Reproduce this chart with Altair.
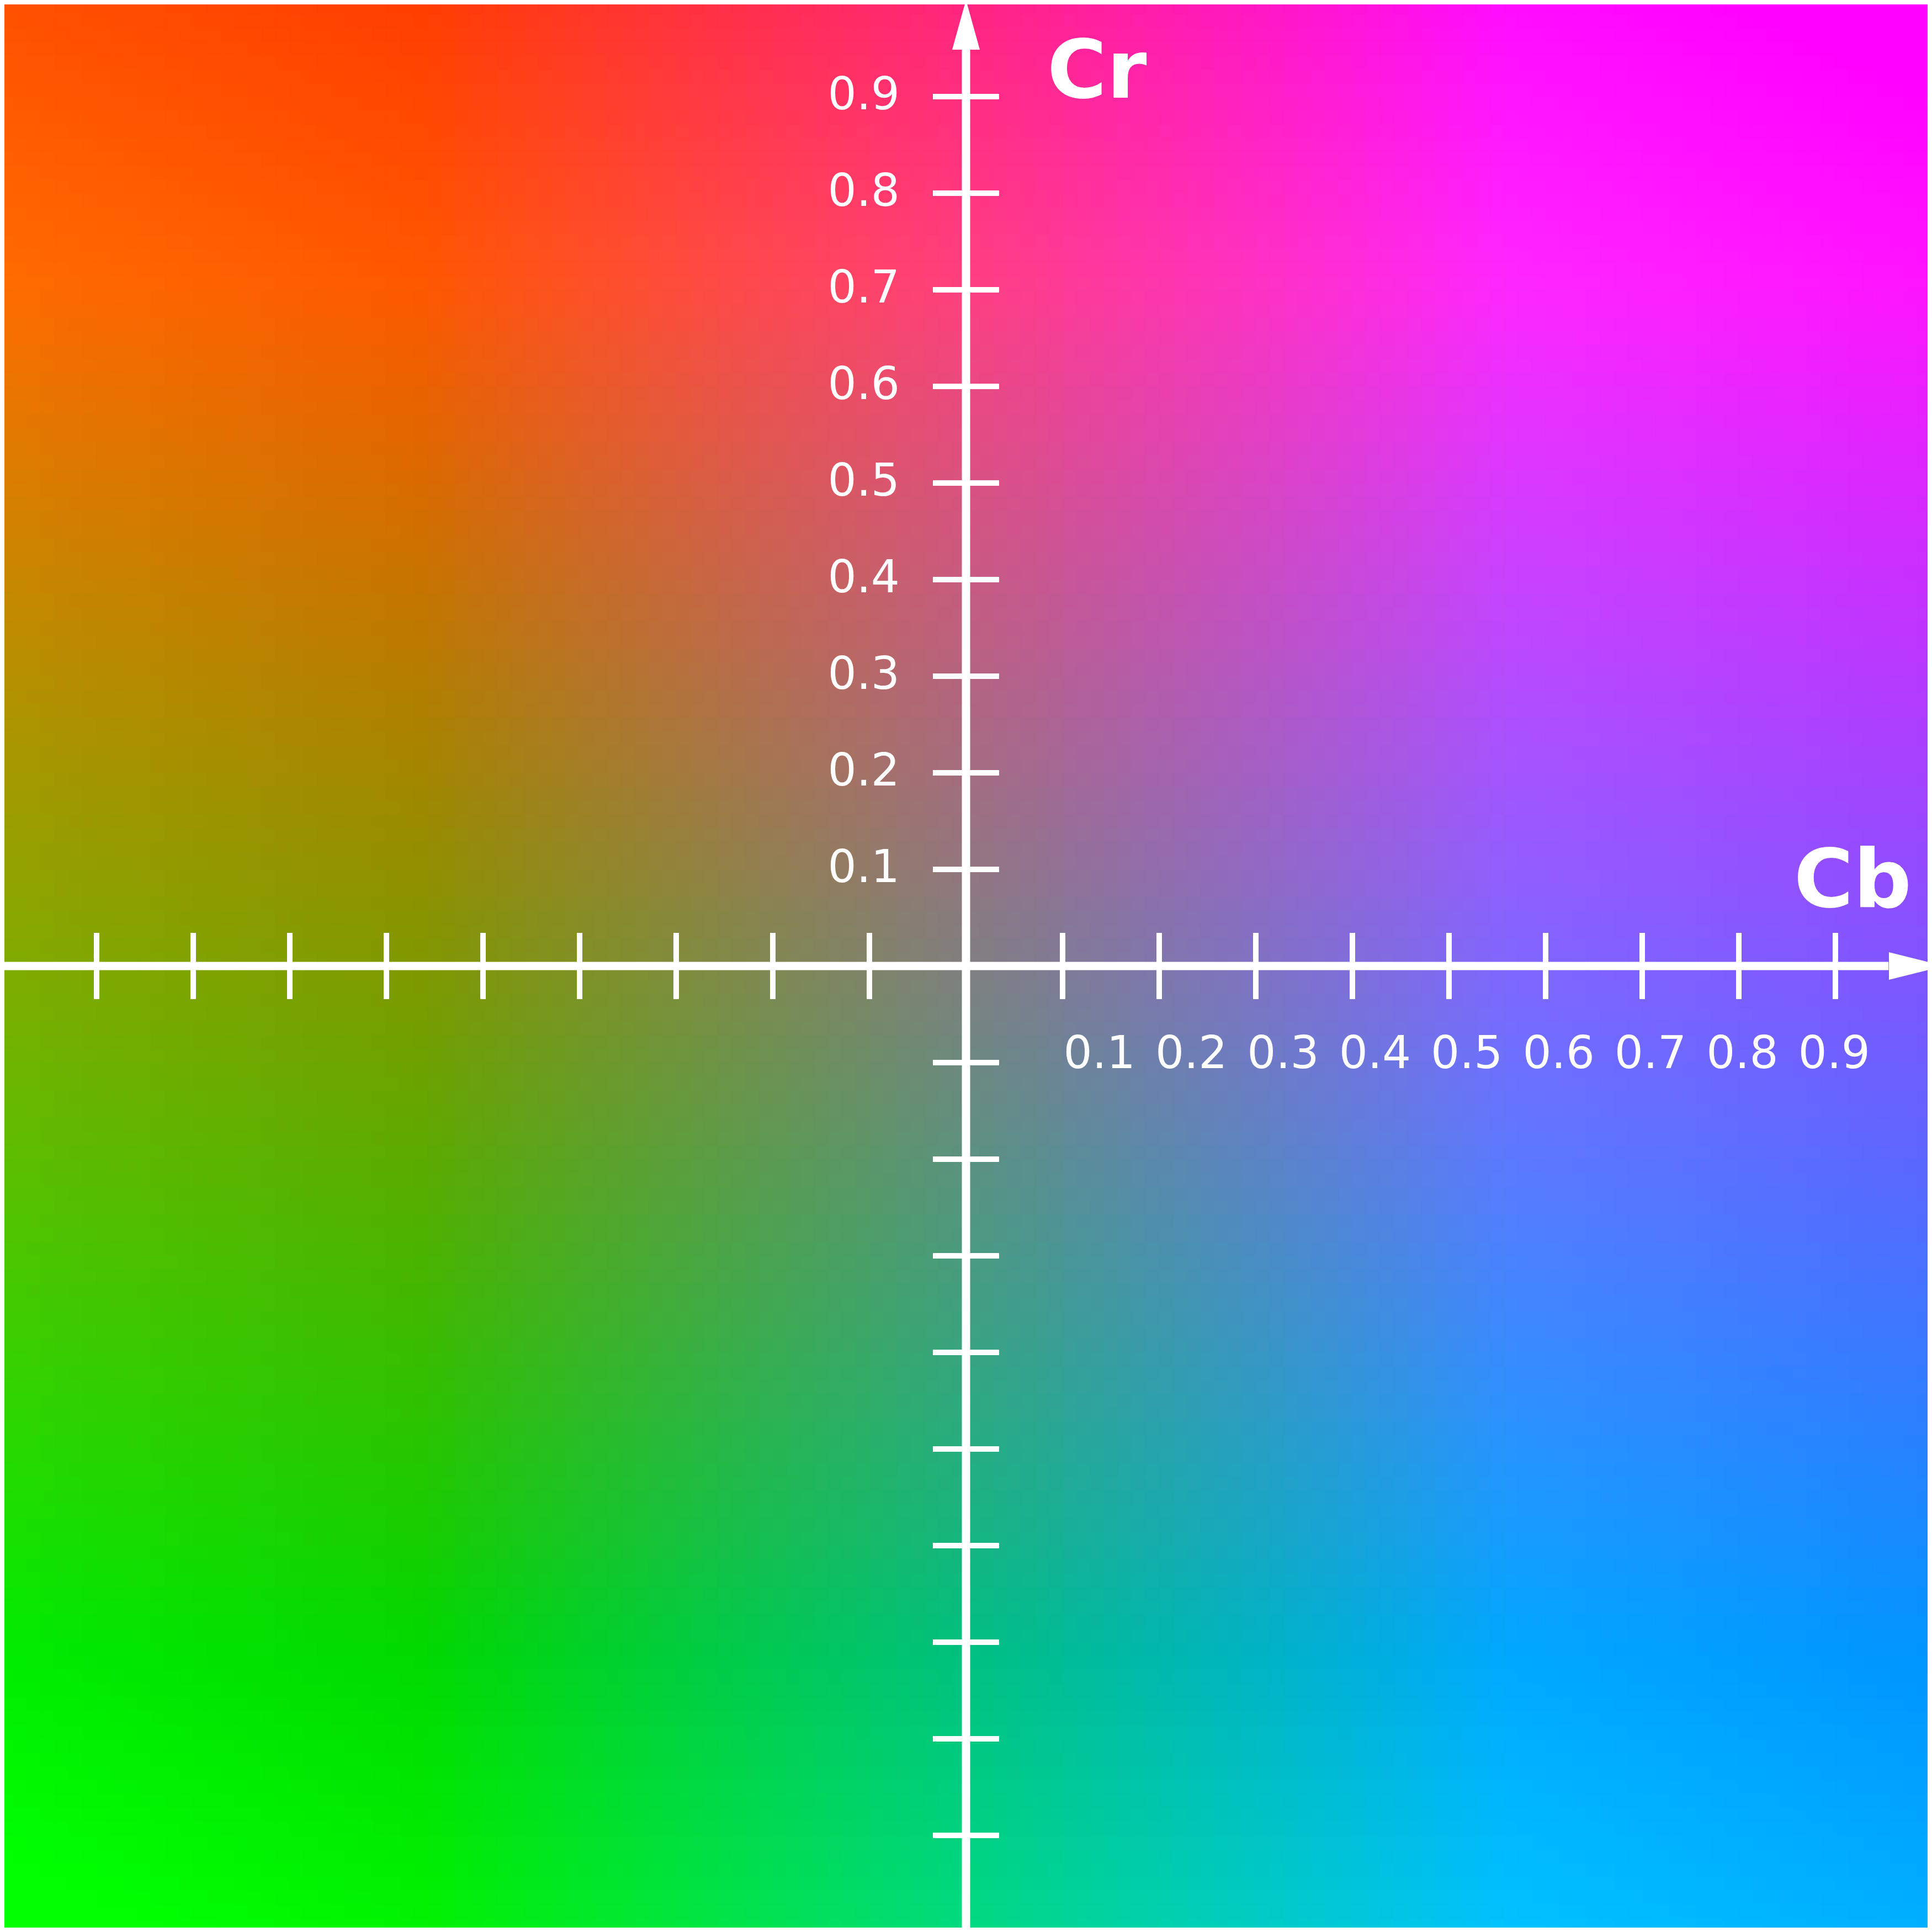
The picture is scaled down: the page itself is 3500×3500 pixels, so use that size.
import numpy as np
import pandas as pd
import altair as alt

# ---- chart values -------------------------------------------------------
TICK_VALUES = [-1.0, -0.9, -0.8, -0.7, -0.6, -0.5, -0.4, -0.3, -0.2, -0.1,
               0.1, 0.2, 0.3, 0.4, 0.5, 0.6, 0.7, 0.8, 0.9, 1.0]
LABEL_VALUES = [0.1, 0.2, 0.3, 0.4, 0.5, 0.6, 0.7, 0.8, 0.9]
LABEL_TEXT = ["0.1", "0.2", "0.3", "0.4", "0.5", "0.6", "0.7", "0.8", "0.9"]
TITLE_CB = "Cb"
TITLE_CR = "Cr"
LUMA = 0.5          # Y value of the plane
GRID_N = 140        # cells per side of the colour plane

# ---- colour plane (YCbCr -> RGB, BT.601), Cb/Cr axis units in [-1, 1] ----
edges = np.linspace(-1.0, 1.0, GRID_N + 1)
centers = (edges[:-1] + edges[1:]) / 2
CB, CR = np.meshgrid(centers, centers)
cb = CB / 2
cr = CR / 2
R = np.clip(LUMA + 1.402 * cr, 0, 1)
G = np.clip(LUMA - 0.344136 * cb - 0.714136 * cr, 0, 1)
B = np.clip(LUMA + 1.772 * cb, 0, 1)
I, J = np.meshgrid(np.arange(GRID_N), np.arange(GRID_N))
hexes = ["#%02x%02x%02x" % (int(round(r * 255)), int(round(g * 255)), int(round(b * 255)))
         for r, g, b in zip(R.ravel(), G.ravel(), B.ravel())]
bg_df = pd.DataFrame({
    "cb0": edges[I.ravel()], "cb1": edges[I.ravel() + 1],
    "cr0": edges[J.ravel()], "cr1": edges[J.ravel() + 1],
    "color": hexes,
})

ticks_df = pd.DataFrame({"v": TICK_VALUES})
labels_df = pd.DataFrame({"v": LABEL_VALUES, "t": LABEL_TEXT})
one = alt.Data(values=[{}])

D = 1742 / 1750
xs = alt.Scale(domain=[-D, D])
ys = alt.Scale(domain=[-D, D])
xl = alt.Scale(domain=[-1.05316, 1.04091])  # spacing of the Cb label row

WHITE = "white"
FONT = "DejaVu Sans"

bg = alt.Chart(bg_df).mark_rect(strokeWidth=1.2, clip=True).encode(
    x=alt.X("cb0:Q", scale=xs, axis=None), x2="cb1:Q",
    y=alt.Y("cr0:Q", scale=ys, axis=None), y2="cr1:Q",
    color=alt.Color("color:N", scale=None),
    stroke=alt.Stroke("color:N", scale=None),
)

h_axis = alt.Chart(one).mark_rule(color=WHITE, strokeWidth=15, clip=True).encode(
    x=alt.XDatum(-1.0, type="quantitative", scale=xs, axis=None),
    x2=alt.X2Datum(0.955),
    y=alt.YDatum(0.0, type="quantitative", scale=ys, axis=None),
)
v_axis = alt.Chart(one).mark_rule(color=WHITE, strokeWidth=15, clip=True).encode(
    x=alt.XDatum(0.0, type="quantitative", scale=xs, axis=None),
    y=alt.YDatum(-1.0, type="quantitative", scale=ys, axis=None),
    y2=alt.Y2Datum(0.9486),
)

x_ticks = alt.Chart(ticks_df).mark_rule(
    color=WHITE, strokeWidth=10, yOffset=-60, y2Offset=60, clip=True
).encode(
    x=alt.X("v:Q", scale=xs, axis=None),
    y=alt.YDatum(0.0, type="quantitative", scale=ys, axis=None),
    y2=alt.Y2Datum(0.0),
)
y_ticks = alt.Chart(ticks_df).mark_rule(
    color=WHITE, strokeWidth=10, xOffset=-60, x2Offset=60, clip=True
).encode(
    y=alt.Y("v:Q", scale=ys, axis=None),
    x=alt.XDatum(0.0, type="quantitative", scale=xs, axis=None),
    x2=alt.X2Datum(0.0),
)

up_arrow = alt.Chart(one).mark_point(
    shape="M0,-1L0.556,1L-0.556,1Z", size=8100, filled=True,
    color=WHITE, opacity=1, strokeWidth=0, clip=True,
).encode(
    x=alt.XDatum(0.0, type="quantitative", scale=xs, axis=None),
    y=alt.YDatum(0.9743, type="quantitative", scale=ys, axis=None),
)
right_arrow = alt.Chart(one).mark_point(
    shape="M1,0L-1,0.5L-1,-0.5Z", size=10000, filled=True,
    color=WHITE, opacity=1, strokeWidth=0, clip=True,
).encode(
    x=alt.XDatum(0.984, type="quantitative", scale=xs, axis=None),
    y=alt.YDatum(0.0, type="quantitative", scale=ys, axis=None),
)

y_labels = alt.Chart(labels_df).mark_text(
    font=FONT, fontSize=82, color=WHITE, align="right",
    baseline="alphabetic", dx=-120, dy=23,
).encode(
    x=alt.XDatum(0.0, type="quantitative", scale=xs, axis=None),
    y=alt.Y("v:Q", scale=ys, axis=None),
    text="t:N",
)
x_labels = alt.Chart(labels_df).mark_text(
    font=FONT, fontSize=82, color=WHITE, align="left",
    baseline="alphabetic", dy=185,
).encode(
    x=alt.X("v:Q", scale=xl, axis=None),
    y=alt.YDatum(0.0, type="quantitative", scale=ys, axis=None),
    text="t:N",
)

cr_title = alt.Chart(one).mark_text(
    font=FONT, fontSize=147, fontWeight="bold", color=WHITE,
    align="left", baseline="alphabetic", text=TITLE_CR,
).encode(
    x=alt.XDatum(0.084, type="quantitative", scale=xs, axis=None),
    y=alt.YDatum(0.8989, type="quantitative", scale=ys, axis=None),
)
cb_title = alt.Chart(one).mark_text(
    font=FONT, fontSize=147, fontWeight="bold", color=WHITE,
    align="left", baseline="alphabetic", text=TITLE_CB,
).encode(
    x=alt.XDatum(0.857, type="quantitative", scale=xs, axis=None),
    y=alt.YDatum(0.0611, type="quantitative", scale=ys, axis=None),
)

chart = alt.layer(
    bg, h_axis, v_axis, x_ticks, y_ticks, up_arrow, right_arrow,
    y_labels, x_labels, cr_title, cb_title,
).resolve_scale(x="independent").properties(
    width=3484, height=3484, padding=0,
    autosize=alt.AutoSizeParams(type="none"),
    background="white",
).configure_view(stroke=None)

chart.save("out.html", embed_options={"renderer": "svg", "actions": False})
